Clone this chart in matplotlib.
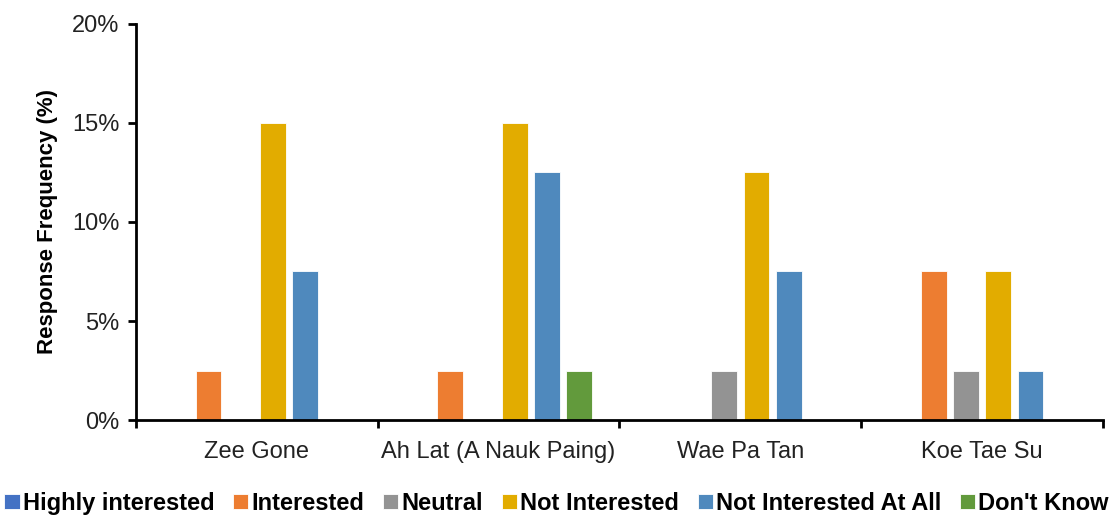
import matplotlib
matplotlib.use("Agg")
import matplotlib.pyplot as plt
from matplotlib.ticker import FuncFormatter, FixedLocator
import numpy as np

plt.rcParams['font.family'] = ['Liberation Sans', 'DejaVu Sans']

villages = ["Zee Gone", "Ah Lat (A Nauk Paing)", "Wae Pa Tan", "Koe Tae Su"]
responses = ["Highly interested", "Interested", "Neutral", "Not Interested",
             "Not Interested At All", "Don't Know"]

highly_interested = [0.0, 0.0, 0.0, 0.0]
interested = [2.5, 2.5, 0.0, 7.5]
neutral = [0.0, 0.0, 2.5, 2.5]
not_interested = [15.0, 15.0, 12.5, 7.5]
not_interested_at_all = [7.5, 12.5, 7.5, 2.5]
dont_know = [0.0, 2.5, 0.0, 0.0]

colors = ["#4472C4", "#ED7D31", "#939393", "#E2AC00", "#4F89BD", "#629A3C"]

series = [highly_interested, interested, neutral, not_interested,
          not_interested_at_all, dont_know]

fig = plt.figure(figsize=(11.13, 5.18), dpi=100)
ax = fig.add_axes([0.1222, 0.189, 0.8688, 0.765])

x = np.arange(len(villages))
group_width = 0.8
slot = group_width / len(series)
bar_w = slot * 0.8

for i, (vals, col, name) in enumerate(zip(series, colors, responses)):
    offs = -group_width / 2 + slot * (i + 0.5)
    ax.bar(x + offs, vals, width=bar_w, color=col, label=name,
           edgecolor="white", linewidth=0.6)

ax.set_xlim(-0.5, len(villages) - 0.5)
ax.set_ylim(0, 20)
ax.set_yticks([0, 5, 10, 15, 20])
ax.yaxis.set_major_formatter(FuncFormatter(lambda v, p: f"{v:.0f}%"))

# category names centred, ticks at group boundaries
ax.xaxis.set_major_locator(FixedLocator(np.arange(len(villages) + 1) - 0.5))
ax.set_xticklabels([])
ax.xaxis.set_minor_locator(FixedLocator(x))
ax.set_xticklabels(villages, minor=True)
ax.tick_params(axis="x", which="minor", length=0, labelsize=17, pad=15, colors="#222222")
ax.tick_params(axis="x", which="major", length=6, width=2, direction="out")
ax.tick_params(axis="y", length=6, width=2, direction="out", labelsize=17, pad=6,
               labelcolor="#222222")

for s in ["top", "right"]:
    ax.spines[s].set_visible(False)
for s in ["left", "bottom"]:
    ax.spines[s].set_linewidth(2)

ax.set_ylabel("Response Frequency (%)", fontsize=16, fontweight="bold", labelpad=10)

leg = fig.legend(loc="lower center", bbox_to_anchor=(0.5, -0.035), ncol=6,
                 frameon=False, fontsize=17, handlelength=0.65, handleheight=0.65,
                 handletextpad=0.12, columnspacing=0.8)
for t in leg.get_texts():
    t.set_fontweight("bold")

fig.savefig("out.png", dpi=100)
